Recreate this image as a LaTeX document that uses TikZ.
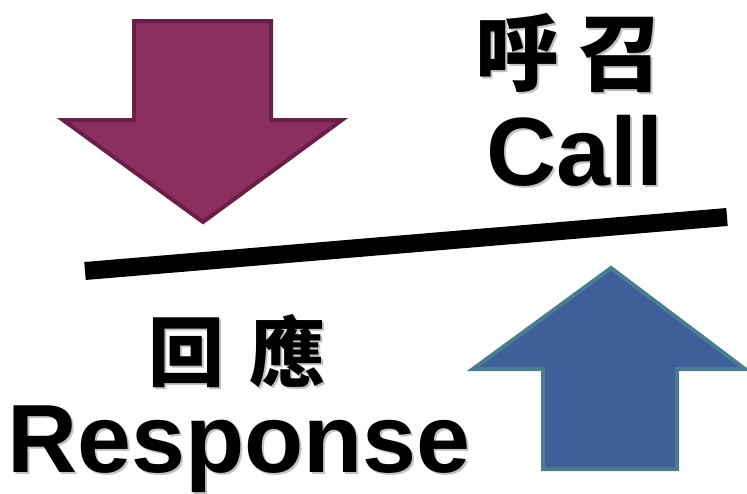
\documentclass[tikz,border=0pt]{standalone}
\usepackage{fontspec}
\setmainfont{Liberation Sans}
\newfontfamily\cjk{Noto Sans CJK TC}
\definecolor{downfill}{RGB}{139,47,94}
\definecolor{downline}{RGB}{106,31,72}
\definecolor{upfill}{RGB}{63,95,155}
\definecolor{upline}{RGB}{74,126,143}
\definecolor{shadowgray}{RGB}{195,195,195}
\newcommand{\shadowtxt}[1]{\makebox[0pt][l]{\hspace{2pt}\raisebox{-2pt}{\textcolor{shadowgray}{#1}}}#1}
\begin{document}
\begin{tikzpicture}[x=1pt,y=-1pt,
  arrowshape/.style={line width=4pt, line join=miter},
  word/.style={anchor=base, inner sep=0pt, font=\bfseries\fontsize{97}{97}\selectfont},
  cjkword/.style={anchor=base, inner sep=0pt}]
\useasboundingbox (0,0) rectangle (747,493);
% down arrow
\draw[arrowshape, fill=downfill, draw=downline]
  (134,21) -- (271,21) -- (271,120) -- (342,120) -- (203,222) -- (63,120) -- (134,120) -- cycle;
% up arrow
\draw[arrowshape, fill=upfill, draw=upline]
  (611,268) -- (745,369) -- (677,369) -- (677,469) -- (543,469) -- (543,369) -- (473,369) -- cycle;
% divider line
\coordinate (l1) at (85,271);
\coordinate (l2) at (727,217);
\draw[line width=18pt] (l1) -- (l2);
% texts with soft shadows
\node[cjkword, font=\cjk\bfseries\fontsize{84}{84}\selectfont] (callzh) at (569,84) {\shadowtxt{呼\hspace{19pt}召}};
\node[word] (call) at (575,185) {\shadowtxt{Call}};
\node[cjkword, font=\cjk\bfseries\fontsize{76}{76}\selectfont] (respzh) at (237,380) {\shadowtxt{回\hspace{26pt}應}};
\node[word] (resp) at (239,472) {\shadowtxt{Response}};
\end{tikzpicture}
\end{document}
